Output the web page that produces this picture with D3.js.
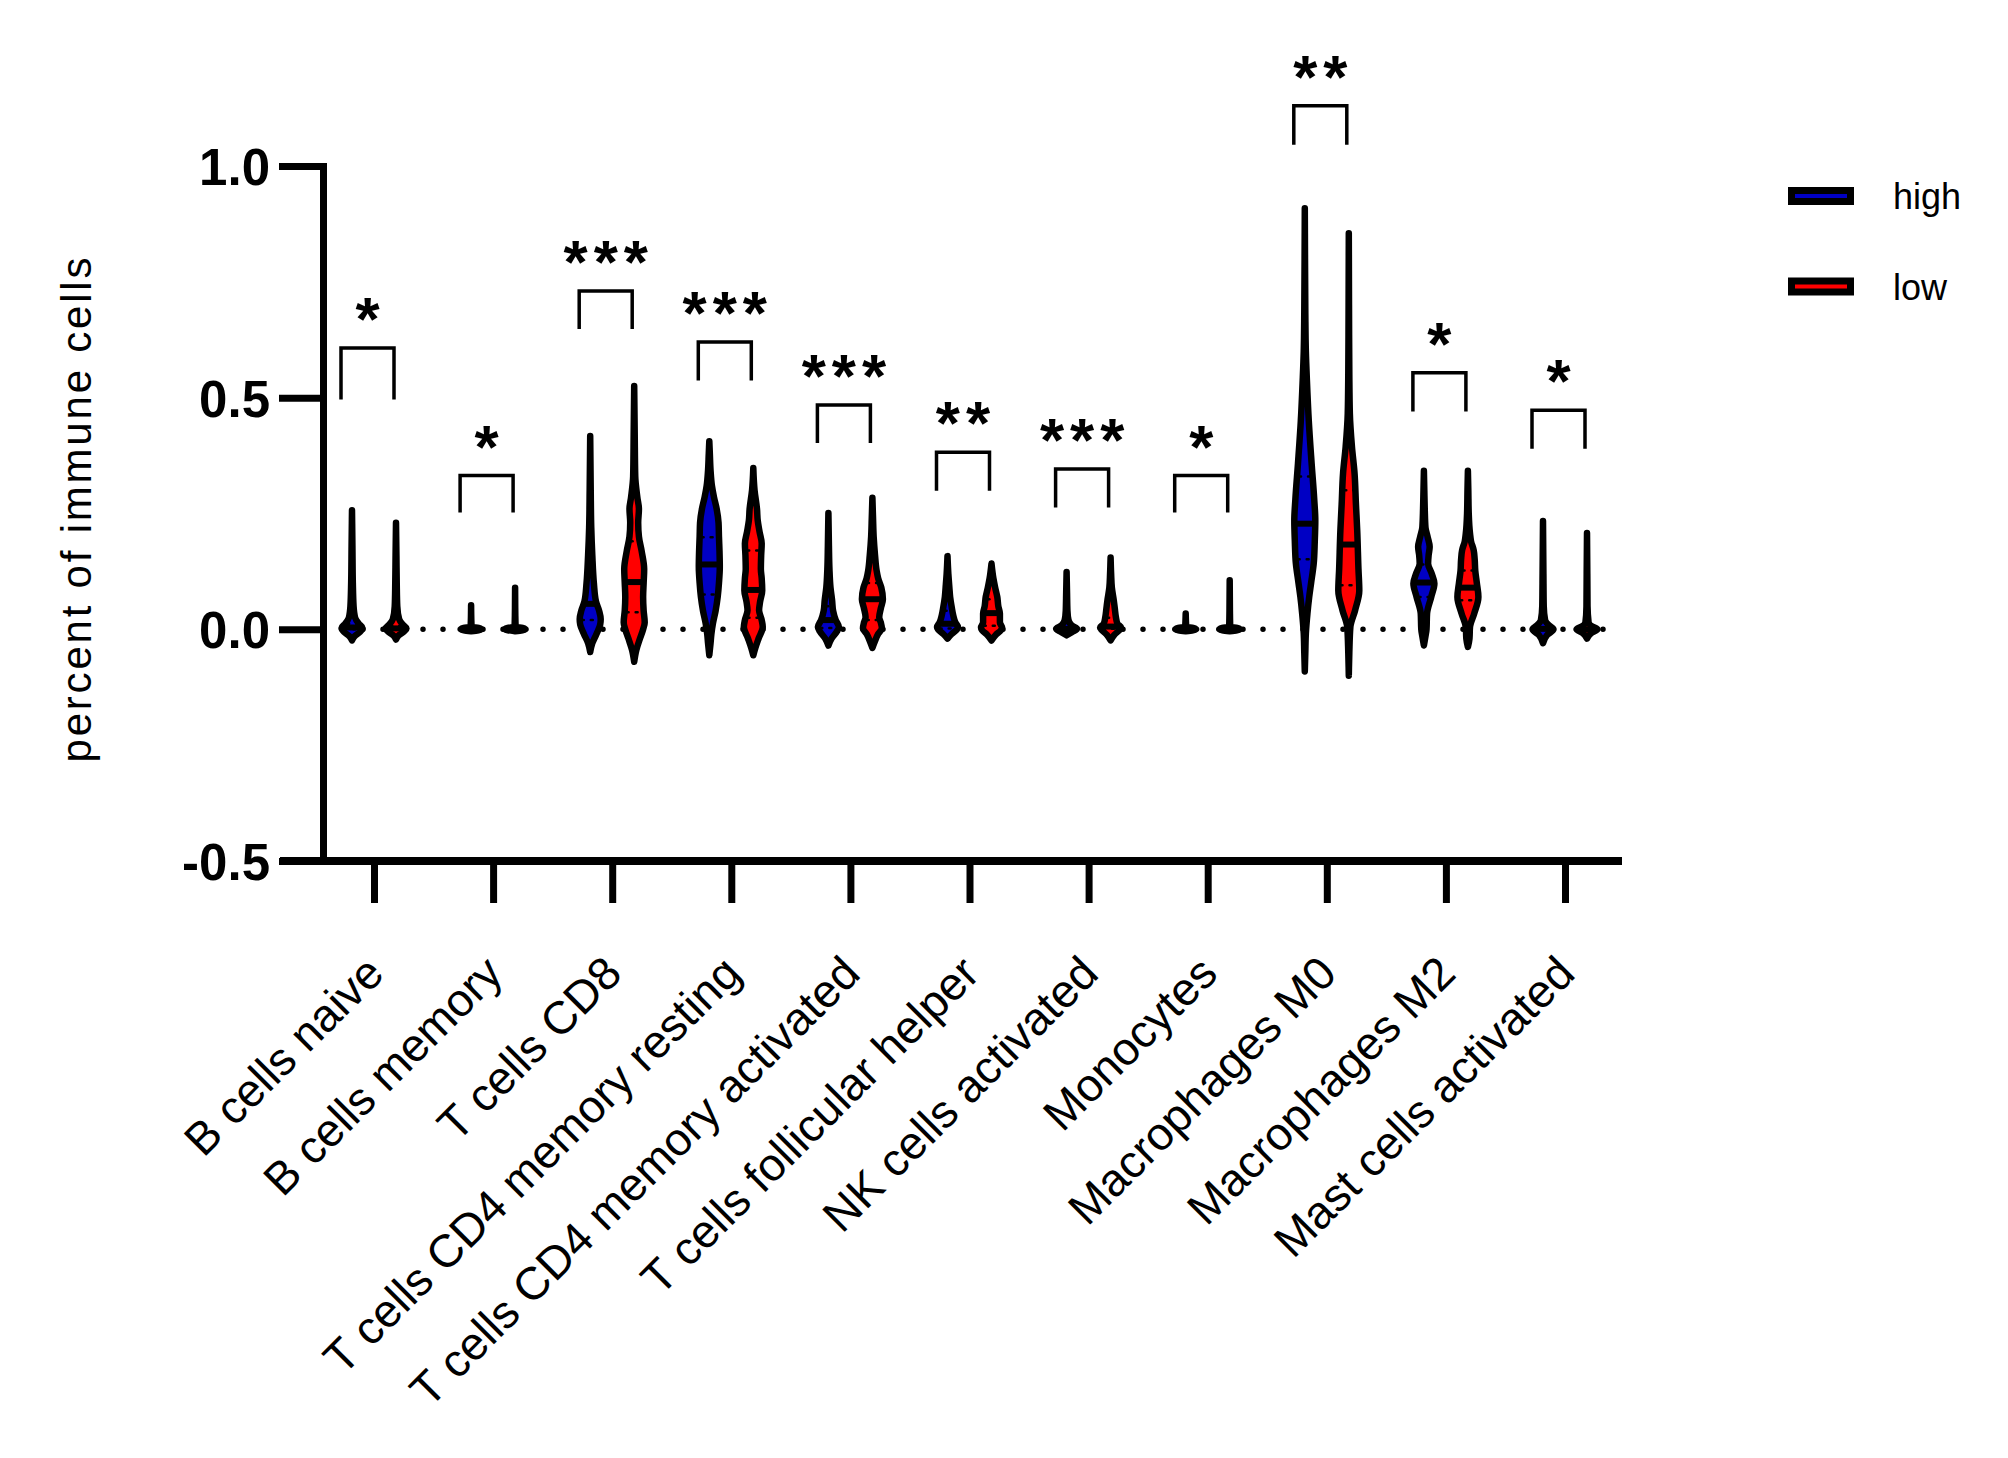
<!DOCTYPE html>
<html>
<head>
<meta charset="utf-8">
<script src="https://cdn.jsdelivr.net/npm/d3@7/dist/d3.min.js"></script>
<style>
  html, body { margin: 0; padding: 0; background: #fff; }
  svg { display: block; }
  text { font-family: "Liberation Sans", Arial, Helvetica, sans-serif; fill: #000; }
</style>
</head>
<body>
<svg id="chart" width="2008" height="1458"></svg>
<script>
// ---------------- DATA ----------------
const categories = [
  "B cells naive", "B cells memory", "T cells CD8", "T cells CD4 memory resting",
  "T cells CD4 memory activated", "T cells follicular helper", "NK cells activated",
  "Monocytes", "Macrophages M0", "Macrophages M2", "Mast cells activated"
];
const seriesNames = ["high", "low"];
const seriesColors = ["#0000c4", "#ff0000"];
const yTickValues = [-0.5, 0.0, 0.5, 1.0];
const yTickLabels = ["-0.5", "0.0", "0.5", "1.0"];
const yTitle = "percent of immune cells";

// violin outlines: [value, relative half-width]
const highShape = [
  [[-0.024,0],[-0.015,0.25],[-0.006,0.75],[0.003,1],[0.012,0.65],[0.025,0.3],[0.05,0.15],[0.1,0.08],[0.18,0.04],[0.257,0]],
  [[-0.004,0],[-0.002,0.7],[0,1],[0.003,0.7],[0.006,0.05],[0.02,0.02],[0.052,0]],
  [[-0.049,0],[-0.03,0.2],[-0.01,0.6],[0.01,0.95],[0.022,1],[0.04,0.85],[0.06,0.55],[0.1,0.35],[0.16,0.2],[0.22,0.1],[0.3,0.05],[0.417,0]],
  [[-0.056,0],[-0.03,0.12],[-0.01,0.2],[0.013,0.35],[0.04,0.6],[0.07,0.8],[0.1,0.92],[0.135,1],[0.17,0.97],[0.2,0.92],[0.23,0.88],[0.26,0.7],[0.285,0.45],[0.31,0.25],[0.343,0.12],[0.38,0.05],[0.406,0]],
  [[-0.035,0],[-0.02,0.3],[-0.005,0.8],[0.005,1],[0.02,0.7],[0.04,0.45],[0.063,0.35],[0.09,0.2],[0.13,0.1],[0.18,0.05],[0.251,0]],
  [[-0.02,0],[-0.01,0.4],[0,0.9],[0.005,1],[0.015,0.75],[0.03,0.55],[0.048,0.4],[0.07,0.25],[0.09,0.18],[0.12,0.08],[0.158,0]],
  [[-0.013,0],[-0.006,0.5],[0.001,1],[0.008,0.5],[0.02,0.18],[0.04,0.08],[0.08,0.04],[0.124,0]],
  [[-0.004,0],[-0.002,0.7],[0,1],[0.003,0.7],[0.006,0.05],[0.034,0]],
  [[-0.091,0],[-0.05,0.05],[-0.009,0.1],[0.034,0.25],[0.07,0.42],[0.1,0.6],[0.142,0.85],[0.19,0.95],[0.235,1],[0.28,0.9],[0.358,0.65],[0.45,0.38],[0.538,0.2],[0.6,0.1],[0.682,0.05],[0.8,0.02],[0.909,0]],
  [[-0.035,0],[-0.015,0.15],[0,0.25],[0.034,0.3],[0.07,0.7],[0.099,1],[0.12,0.75],[0.142,0.4],[0.16,0.45],[0.178,0.55],[0.2,0.35],[0.22,0.15],[0.26,0.08],[0.3,0.04],[0.342,0]],
  [[-0.03,0],[-0.012,0.4],[0,1],[0.008,0.6],[0.02,0.2],[0.05,0.07],[0.12,0.04],[0.234,0]]
];
const lowShape = [
  [[-0.022,0],[-0.013,0.25],[-0.005,0.75],[0.002,1],[0.01,0.65],[0.022,0.3],[0.05,0.12],[0.1,0.07],[0.16,0.04],[0.23,0]],
  [[-0.004,0],[-0.002,0.7],[0,1],[0.003,0.7],[0.006,0.05],[0.03,0.02],[0.09,0]],
  [[-0.07,0],[-0.045,0.2],[-0.02,0.55],[0,0.85],[0.015,1],[0.04,0.9],[0.07,0.85],[0.1,0.9],[0.13,0.95],[0.17,0.7],[0.2,0.45],[0.23,0.38],[0.26,0.45],[0.285,0.3],[0.33,0.1],[0.42,0.05],[0.525,0]],
  [[-0.056,0],[-0.04,0.2],[-0.02,0.5],[0.005,0.9],[0.02,0.8],[0.041,0.55],[0.06,0.65],[0.084,0.85],[0.11,0.8],[0.13,0.72],[0.16,0.75],[0.185,0.8],[0.21,0.6],[0.235,0.42],[0.26,0.35],[0.3,0.12],[0.348,0]],
  [[-0.04,0],[-0.025,0.25],[-0.01,0.55],[0.002,0.9],[0.015,0.8],[0.026,0.65],[0.045,0.8],[0.065,1],[0.09,0.85],[0.11,0.55],[0.127,0.4],[0.16,0.25],[0.2,0.12],[0.24,0.06],[0.284,0]],
  [[-0.024,0],[-0.012,0.4],[-0.002,0.9],[0.004,1],[0.015,0.8],[0.034,0.8],[0.05,0.65],[0.07,0.55],[0.09,0.35],[0.11,0.18],[0.142,0]],
  [[-0.024,0],[-0.012,0.35],[0,0.9],[0.004,1],[0.012,0.65],[0.027,0.5],[0.045,0.4],[0.063,0.3],[0.09,0.12],[0.12,0.05],[0.155,0]],
  [[-0.004,0],[-0.002,0.7],[0,1],[0.003,0.7],[0.006,0.05],[0.04,0.02],[0.106,0]],
  [[-0.1,0],[-0.05,0.05],[0.005,0.15],[0.041,0.6],[0.084,1],[0.13,0.92],[0.214,0.8],[0.27,0.68],[0.336,0.55],[0.394,0.3],[0.466,0.1],[0.55,0.05],[0.7,0.02],[0.855,0]],
  [[-0.038,0],[-0.02,0.15],[0.005,0.2],[0.034,0.6],[0.07,1],[0.1,0.85],[0.127,0.7],[0.15,0.65],[0.171,0.55],[0.19,0.3],[0.207,0.2],[0.25,0.08],[0.3,0.04],[0.342,0]],
  [[-0.02,0],[-0.008,0.4],[0,1],[0.006,0.5],[0.015,0.15],[0.05,0.05],[0.12,0.03],[0.208,0]]
];
const highMedian = [0.004, 0, 0.055, 0.14, 0.02, 0.012, 0.001, 0, 0.228, 0.101, 0.001];
const highQ1     = [0.0, 0, 0.02, 0.075, 0.003, 0.002, 0, 0, 0.151, 0.07, 0];
const highQ3     = [0.012, 0, 0.11, 0.199, 0.05, 0.04, 0.004, 0, 0.33, 0.14, 0.004];
const lowMedian  = [0.002, 0, 0.102, 0.085, 0.065, 0.035, 0.006, 0, 0.183, 0.09, 0];
const lowQ1      = [0.0, 0, 0.037, 0.025, 0.02, 0.008, 0.001, 0, 0.095, 0.063, 0];
const lowQ3      = [0.008, 0, 0.19, 0.17, 0.1, 0.065, 0.025, 0, 0.3, 0.127, 0.003];

// significance annotations
const sigStars      = ["*", "*", "***", "***", "***", "**", "***", "*", "**", "*", "*"];
const bracketTop    = [0.607, 0.332, 0.73, 0.62, 0.484, 0.382, 0.346, 0.332, 1.13, 0.554, 0.473];
const bracketBottom = [0.496, 0.252, 0.648, 0.537, 0.402, 0.299, 0.263, 0.252, 1.046, 0.47, 0.39];

// ---------------- LAYOUT ----------------
const svg = d3.select("#chart");
const FONT = '"Liberation Sans", Arial, Helvetica, sans-serif';
const axisX = 323, axisRight = 1622;
const y = d3.scaleLinear().domain([-0.5, 1.0]).range([861, 166]);
const x = d3.scalePoint().domain(categories).range([374, 1565]);
const sub = d3.scaleBand().domain(seriesNames).range([-44, 44]);
const color = d3.scaleOrdinal().domain(seriesNames).range(seriesColors);
const maxHW = 10.5;
const cxOf = (c, s) => x(c) + sub(s) + sub.bandwidth() / 2;

// zero dotted line
svg.append("line")
  .attr("x1", axisX).attr("x2", axisRight)
  .attr("y1", y(0)).attr("y2", y(0))
  .attr("stroke", "#000").attr("stroke-width", 5.5)
  .attr("stroke-linecap", "round").attr("stroke-dasharray", "0 20");

// violins
const shapes = { high: highShape, low: lowShape };
const medians = { high: highMedian, low: lowMedian };
const q1s = { high: highQ1, low: lowQ1 };
const q3s = { high: highQ3, low: lowQ3 };

const gV = svg.append("g");
categories.forEach((c, i) => {
  seriesNames.forEach(s => {
    const prof = shapes[s][i];
    const cx = cxOf(c, s);
    const area = d3.area()
      .curve(d3.curveMonotoneY)
      .y(d => y(d[0]))
      .x0(d => cx - d[1] * maxHW)
      .x1(d => cx + d[1] * maxHW);
    gV.append("path")
      .attr("d", area(prof))
      .attr("fill", color(s))
      .attr("stroke", "#000")
      .attr("stroke-width", 6.5)
      .attr("stroke-linejoin", "round");
    const wAt = d3.scaleLinear().domain(prof.map(d => d[0])).range(prof.map(d => d[1])).clamp(true);
    // quartiles (thin dotted)
    [q1s[s][i], q3s[s][i]].forEach(q => {
      const hw = wAt(q) * maxHW;
      if (hw > 4) {
        gV.append("line")
          .attr("x1", cx - hw + 2).attr("x2", cx + hw - 2)
          .attr("y1", y(q)).attr("y2", y(q))
          .attr("stroke", "#000").attr("stroke-width", 2.5)
          .attr("stroke-dasharray", "2 7").attr("stroke-linecap", "round");
      }
    });
    // median (thick)
    const m = medians[s][i];
    const hwm = wAt(m) * maxHW;
    gV.append("line")
      .attr("x1", cx - hwm).attr("x2", cx + hwm)
      .attr("y1", y(m)).attr("y2", y(m))
      .attr("stroke", "#000").attr("stroke-width", 6);
  });
});

// y axis
const yAxis = d3.axisLeft(y).tickValues(yTickValues).tickSize(44).tickSizeOuter(0)
  .tickFormat((d, i) => yTickLabels[i]);
const gy = svg.append("g").attr("transform", `translate(${axisX},0)`).call(yAxis);
gy.select(".domain").attr("stroke", "#000").attr("stroke-width", 7).attr("stroke-linecap", "square");
gy.selectAll(".tick line").attr("stroke", "#000").attr("stroke-width", 7);
gy.selectAll(".tick text")
  .attr("x", -53).attr("dy", "0.36em")
  .style("font-family", FONT).style("font-size", "51px").style("font-weight", "bold").attr("fill", "#000");

// x axis
const xAxis = d3.axisBottom(x).tickSize(42).tickSizeOuter(0).tickFormat("");
const gx = svg.append("g").attr("transform", `translate(0,${y(-0.5)})`).call(xAxis);
gx.select(".domain").remove();
gx.selectAll(".tick line").attr("stroke", "#000").attr("stroke-width", 7);
gx.append("line").attr("x1", 280).attr("x2", axisRight).attr("y1", 0).attr("y2", 0)
  .attr("stroke", "#000").attr("stroke-width", 8);

// x labels
svg.append("g").selectAll("text").data(categories).join("text")
  .attr("transform", d => `translate(${x(d) + 12},${976}) rotate(-45)`)
  .attr("text-anchor", "end")
  .style("font-family", FONT).style("font-size", "46px")
  .text(d => d);

// y title
svg.append("text")
  .attr("transform", `translate(91,${510}) rotate(-90)`)
  .attr("text-anchor", "middle")
  .attr("textLength", 505).attr("lengthAdjust", "spacing")
  .style("font-family", FONT).style("font-size", "42px")
  .text(yTitle);

// significance brackets
const gS = svg.append("g");
categories.forEach((c, i) => {
  const left = cxOf(c, "high") - 11;
  const right = cxOf(c, "low") - 2;
  gS.append("path")
    .attr("d", `M${left},${y(bracketBottom[i])}V${y(bracketTop[i])}H${right}V${y(bracketBottom[i])}`)
    .attr("fill", "none").attr("stroke", "#000").attr("stroke-width", 3.5);
  gS.append("text")
    .attr("x", (left + right) / 2 + 3)
    .attr("y", y(bracketTop[i]) - 8)
    .attr("text-anchor", "middle")
    .style("font-family", FONT).style("font-size", "62px").style("font-weight", "bold")
    .style("letter-spacing", "6px")
    .text(sigStars[i]);
});

// legend
const legendY = d3.scalePoint().domain(seriesNames).range([196, 286.5]);
const gL = svg.append("g");
seriesNames.forEach(s => {
  gL.append("rect")
    .attr("x", 1791.5).attr("y", legendY(s) - 5.5).attr("width", 59).attr("height", 11)
    .attr("fill", color(s)).attr("stroke", "#000").attr("stroke-width", 7);
  gL.append("text")
    .attr("x", 1893).attr("y", legendY(s) + 13)
    .style("font-family", FONT).style("font-size", "36px")
    .text(s);
});
</script>
</body>
</html>
